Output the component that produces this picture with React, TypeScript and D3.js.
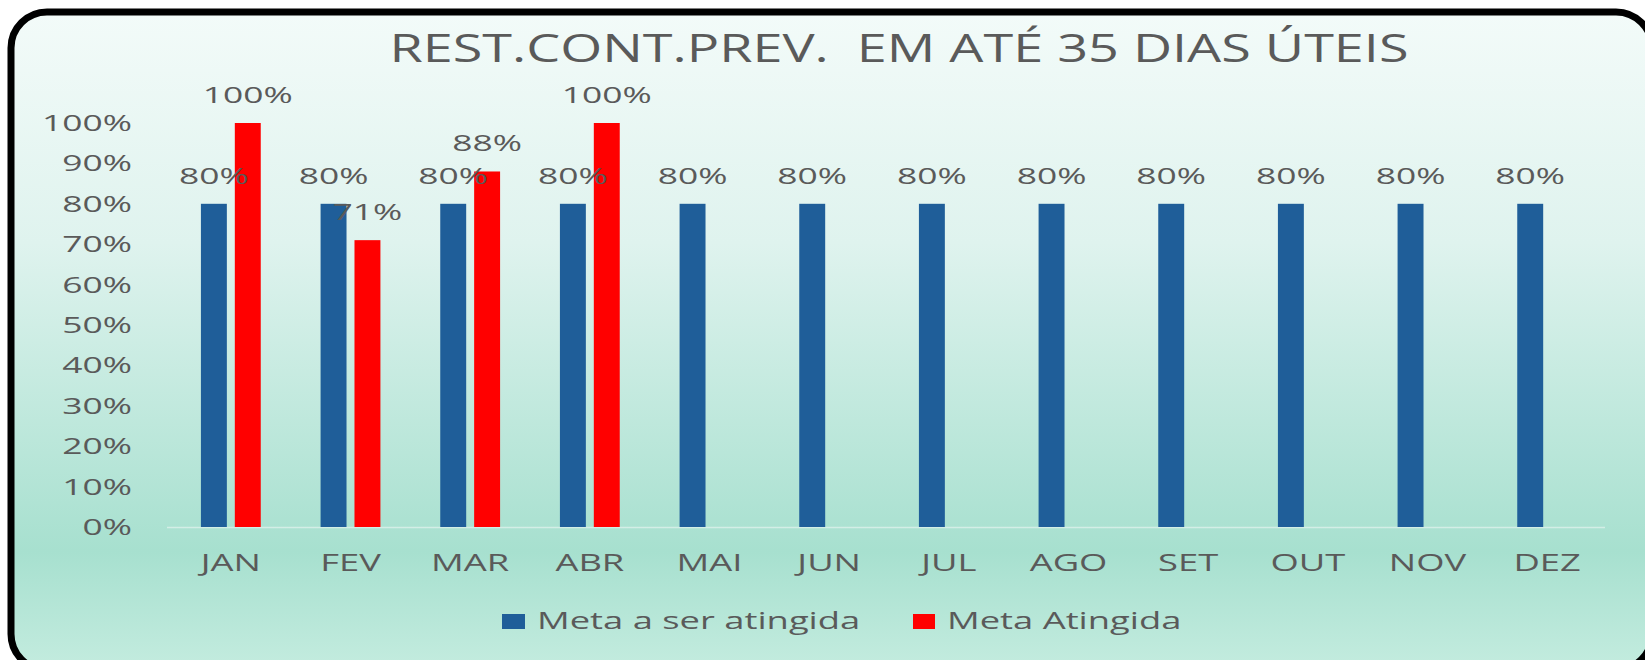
import React from 'react';
import * as d3 from 'd3';

const title = 'REST.CONT.PREV.  EM ATÉ 35 DIAS ÚTEIS';
const months = ['JAN', 'FEV', 'MAR', 'ABR', 'MAI', 'JUN', 'JUL', 'AGO', 'SET', 'OUT', 'NOV', 'DEZ'];
const seriesNames = ['Meta a ser atingida', 'Meta Atingida'];
const metaSerAtingida = [0.8, 0.8, 0.8, 0.8, 0.8, 0.8, 0.8, 0.8, 0.8, 0.8, 0.8, 0.8];
const metaAtingida: (number | null)[] = [1.0, 0.71, 0.88, 1.0, null, null, null, null, null, null, null, null];
const yTicks = [0, 0.1, 0.2, 0.3, 0.4, 0.5, 0.6, 0.7, 0.8, 0.9, 1.0];

const W = 1645;
const H = 660;
const FONT = "'Open Sans', sans-serif";
const SX = 1.58;
const TEXT = '#5a5a5a';
const COLORS = ['#1f5e99', '#ff0000'];

export default function App() {
  const x0 = d3.scaleBand<string>().domain(months).range([171, 1607]).paddingInner(0.5).paddingOuter(0.25);
  const x1 = d3.scaleBand<string>().domain(seriesNames).range([0, x0.bandwidth()]).paddingInner(0.235);
  const y = d3.scaleLinear().domain([0, 1]).range([527, 123]);
  const fmt = d3.format('.0%');
  const series = [metaSerAtingida, metaAtingida];

  const stretched = (x: number, yy: number) => `translate(${x},${yy}) scale(${SX},1)`;

  return (
    <svg width={W} height={H} style={{ position: 'absolute', left: 0, top: 0, display: 'block' }}
      fontFamily={FONT}>
      <defs>
        <linearGradient id="bg" x1="0" y1="0" x2="0" y2="1">
          <stop offset="0" stopColor="#f3fbf9" />
          <stop offset="0.35" stopColor="#dff3ee" />
          <stop offset="0.82" stopColor="#a7e0cf" />
          <stop offset="1" stopColor="#c4ecdf" />
        </linearGradient>
      </defs>
      <rect x={0} y={0} width={W} height={H} fill="#ffffff" />
      <rect x={11} y={12} width={1641} height={658} rx={36} ry={36}
        fill="url(#bg)" stroke="#000000" strokeWidth={7} />

      <text x={899} y={62} textAnchor="middle" fontSize={38} fill={TEXT}
        textLength={1019} lengthAdjust="spacingAndGlyphs" style={{ whiteSpace: 'pre' }}>
        {title}
      </text>

      {yTicks.map((t) => (
        <text key={t} transform={stretched(132, y(t) + 8)} textAnchor="end" fontSize={22.4} fill={TEXT}>
          {fmt(t)}
        </text>
      ))}

      <line x1={167} x2={1605} y1={y(0) + 0.5} y2={y(0) + 0.5} stroke="#d3eee6" strokeWidth={1.5} />

      {series.map((vals, si) => (
        <g key={si} fill={COLORS[si]}>
          {months.map((m, i) => {
            const v = vals[i];
            if (v == null) return null;
            return (
              <rect key={m} x={(x0(m) ?? 0) + (x1(seriesNames[si]) ?? 0)} y={y(v)}
                width={x1.bandwidth()} height={y(0) - y(v)} />
            );
          })}
        </g>
      ))}

      {series.map((vals, si) => (
        <g key={'l' + si}>
          {months.map((m, i) => {
            const v = vals[i];
            if (v == null) return null;
            const cx = (x0(m) ?? 0) + (x1(seriesNames[si]) ?? 0) + x1.bandwidth() / 2;
            return (
              <text key={m} transform={stretched(cx, y(v) - 20)} textAnchor="middle" fontSize={22.4} fill={TEXT}>
                {fmt(v)}
              </text>
            );
          })}
        </g>
      ))}

      {months.map((m) => (
        <text key={m} transform={stretched((x0(m) ?? 0) + x0.bandwidth() / 2, 571)} textAnchor="middle"
          fontSize={23} fill={TEXT}>
          {m}
        </text>
      ))}

      <g>
        <rect x={502} y={614} width={23} height={15} fill={COLORS[0]} />
        <text transform={stretched(537, 629)} fontSize={23} fill={TEXT}>{seriesNames[0]}</text>
        <rect x={913} y={614} width={22} height={15} fill={COLORS[1]} />
        <text transform={stretched(947, 629)} fontSize={23} fill={TEXT}>{seriesNames[1]}</text>
      </g>
    </svg>
  );
}
